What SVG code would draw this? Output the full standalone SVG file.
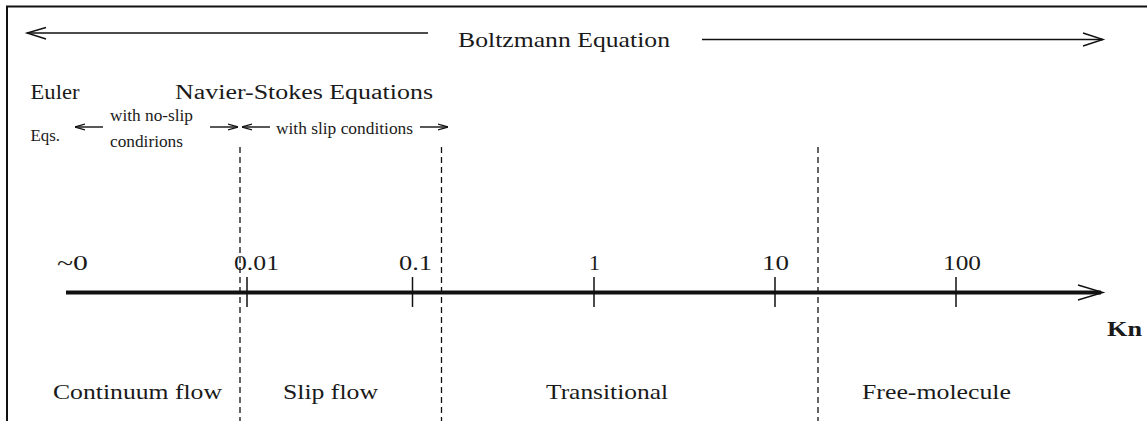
<svg xmlns="http://www.w3.org/2000/svg" width="1147" height="421" viewBox="0 0 1147 421">
<style>
text{font-family:"Liberation Serif","Times New Roman",serif;fill:#1a1a1a}
.t22{font-size:22px}
.t21{font-size:21px}
.t20{font-size:20px}
.t16{font-size:16px}
.ln{stroke:#111;fill:none;stroke-width:1.4}
.dash{stroke:#111;stroke-width:1.3;stroke-dasharray:6 4;fill:none}
.tick{stroke:#111;stroke-width:1.5}
</style>
<defs>
<marker id="sm" viewBox="0 0 10 8" refX="10" refY="4" markerWidth="10" markerHeight="8" markerUnits="userSpaceOnUse" orient="auto">
<path d="M0,1 L10,4 L0,7" fill="none" stroke="#111" stroke-width="1.2"/>
</marker>
</defs>
<rect width="1147" height="421" fill="#fff"/>
<g id="frame">
<line x1="6" y1="6.5" x2="1147" y2="6.5" stroke="#111" stroke-width="2"/>
<line x1="7" y1="6" x2="7" y2="421" stroke="#111" stroke-width="2"/>
</g>
<g id="connectors">
<line class="ln" x1="27" y1="33" x2="428" y2="33"/>
<path class="ln" d="M46,27.5 L27,33 L46,39"/>
<line class="ln" x1="702" y1="39.5" x2="1103" y2="39.5"/>
<path class="ln" d="M1083,33 L1103,39.5 L1083,46"/>
<line class="ln" x1="103" y1="127" x2="75" y2="127" marker-end="url(#sm)" stroke-width="1.3"/>
<line class="ln" x1="210" y1="127" x2="238" y2="127" marker-end="url(#sm)" stroke-width="1.3"/>
<line class="ln" x1="270" y1="127" x2="242" y2="127" marker-end="url(#sm)" stroke-width="1.3"/>
<line class="ln" x1="420" y1="127" x2="448" y2="127" marker-end="url(#sm)" stroke-width="1.3"/>
<line x1="66" y1="292.5" x2="1101" y2="292.5" stroke="#111" stroke-width="4"/>
<path class="ln" d="M1078,285 L1103,292.5 L1078,300" stroke-width="1.6"/>
<line class="tick" x1="247" y1="277" x2="247" y2="307"/>
<line class="tick" x1="412.5" y1="277" x2="412.5" y2="307"/>
<line class="tick" x1="594" y1="277" x2="594" y2="307"/>
<line class="tick" x1="775" y1="277" x2="775" y2="307"/>
<line class="tick" x1="956" y1="277" x2="956" y2="307"/>
<line class="dash" x1="240" y1="147" x2="240" y2="421"/>
<line class="dash" x1="441.5" y1="147" x2="441.5" y2="421"/>
<line class="dash" x1="818" y1="147" x2="818" y2="421"/>
</g>
<g id="boltzmann"><text class="t22" x="458" y="47" textLength="212" lengthAdjust="spacingAndGlyphs">Boltzmann Equation</text></g>
<g id="euler">
<text class="t20" x="30.5" y="98.5" textLength="49" lengthAdjust="spacingAndGlyphs">Euler</text>
<text x="30.5" y="141" font-size="16.5" textLength="29.5" lengthAdjust="spacingAndGlyphs">Eqs.</text>
</g>
<g id="navier-stokes"><text class="t20" x="175" y="98.5" textLength="258" lengthAdjust="spacingAndGlyphs">Navier-Stokes Equations</text></g>
<g id="no-slip">
<text class="t16" x="110" y="120.5" textLength="83" lengthAdjust="spacingAndGlyphs">with no-slip</text>
<text class="t16" x="110" y="146.5" textLength="73" lengthAdjust="spacingAndGlyphs">condirions</text>
</g>
<g id="slip"><text x="276" y="133.5" font-size="16.5" textLength="137" lengthAdjust="spacingAndGlyphs">with slip conditions</text></g>
<g id="axis-labels">
<text class="t22" x="57" y="270" textLength="31" lengthAdjust="spacingAndGlyphs">~0</text>
<text class="t22" x="234" y="270" textLength="45" lengthAdjust="spacingAndGlyphs">0.01</text>
<text class="t22" x="399" y="270" textLength="33" lengthAdjust="spacingAndGlyphs">0.1</text>
<text class="t22" x="589" y="270" textLength="11" lengthAdjust="spacingAndGlyphs">1</text>
<text class="t22" x="762" y="270" textLength="27" lengthAdjust="spacingAndGlyphs">10</text>
<text class="t22" x="943" y="270" textLength="38" lengthAdjust="spacingAndGlyphs">100</text>
<text class="t22" x="1107" y="336" font-weight="bold" textLength="35" lengthAdjust="spacingAndGlyphs">Kn</text>
</g>
<g id="continuum"><text class="t21" x="53" y="399" textLength="169" lengthAdjust="spacingAndGlyphs">Continuum flow</text></g>
<g id="slip-flow"><text class="t21" x="283" y="399" textLength="95" lengthAdjust="spacingAndGlyphs">Slip flow</text></g>
<g id="transitional"><text class="t21" x="546" y="399" textLength="122" lengthAdjust="spacingAndGlyphs">Transitional</text></g>
<g id="free-molecule"><text class="t21" x="862" y="399" textLength="149" lengthAdjust="spacingAndGlyphs">Free-molecule</text></g>
</svg>
